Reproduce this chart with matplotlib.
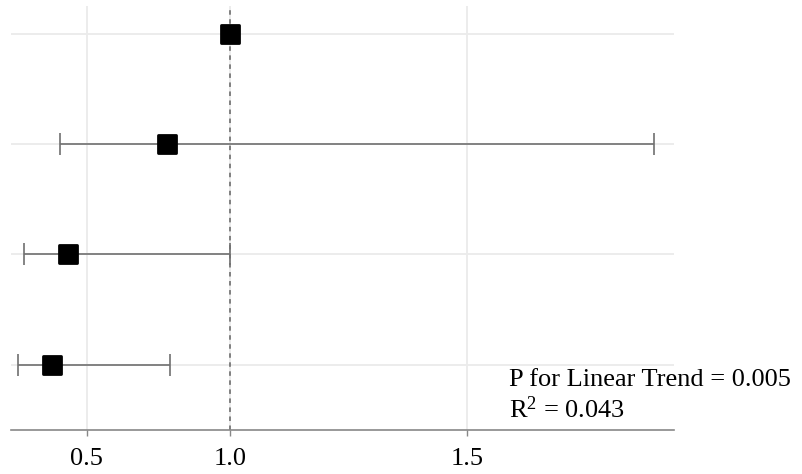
import numpy as np
import matplotlib
matplotlib.use("Agg")
import matplotlib.pyplot as plt
from matplotlib.markers import MarkerStyle

# odds ratios with 95% CI, top row is the reference group
rows = [4, 3, 2, 1]
odds_ratio = [1.0, 0.81, 0.41, 0.33]
ci_low = [np.nan, 0.371, 0.167, 0.128]
ci_high = [np.nan, 1.77, 1.00, 0.819]
x_ticks = [0.5, 1.0, 1.5]
x_tick_labels = ["0.5", "1.0", "1.5"]
p_trend = "P for Linear Trend = 0.005"
r2_text = "R$^{2}$ = 0.043"

plt.rcParams["font.family"] = ["Liberation Serif", "DejaVu Serif"]
plt.rcParams["mathtext.fontset"] = "custom"
plt.rcParams["mathtext.rm"] = "Liberation Serif"
plt.rcParams["mathtext.it"] = "Liberation Serif:italic"

fig = plt.figure(figsize=(8.03, 4.74), dpi=100)
ax = fig.add_axes([11 / 803, 44 / 474, 663 / 803, 424 / 474])
ax.set_xscale("function", functions=(np.exp, np.log))

or_arr = np.array(odds_ratio)
lo = np.array(ci_low)
hi = np.array(ci_high)
has_ci = ~np.isnan(lo)
xerr = np.vstack([or_arr[has_ci] - lo[has_ci], hi[has_ci] - or_arr[has_ci]])
ax.errorbar(or_arr[has_ci], np.array(rows)[has_ci], xerr=xerr, fmt="none",
            ecolor="#707070", elinewidth=1.2, capsize=8, capthick=1.2, zorder=3)

ax.axvline(1.0, color="#777777", linestyle=(0, (2.5, 2.5)), linewidth=1.3, zorder=2)

ax.plot(odds_ratio, rows, linestyle="none",
        marker=MarkerStyle("s", joinstyle="round"), markersize=13,
        markerfacecolor="black", markeredgecolor="black", markeredgewidth=2,
        zorder=4)

ax.set_xlim(0.0815, 1.7954)
ax.set_ylim(0.41, 4.25)
ax.set_xticks(x_ticks)
ax.set_xticklabels(x_tick_labels, fontsize=19)
ax.xaxis.set_minor_locator(matplotlib.ticker.NullLocator())
ax.set_yticks(rows)
ax.set_yticklabels([])
ax.tick_params(axis="y", length=0)
ax.tick_params(axis="x", length=4, width=1, color="#888888", pad=9)

ax.grid(True, color="#ebebeb", linewidth=1.3, zorder=0)
ax.set_axisbelow(True)
for side in ["left", "right", "top"]:
    ax.spines[side].set_visible(False)
ax.spines["bottom"].set_color("#888888")
ax.spines["bottom"].set_linewidth(1.2)

ax.text(509, 474 - 380, p_trend, transform=None, fontsize=19, va="center", ha="left")
ax.text(509, 474 - 410, r2_text, transform=None, fontsize=19, va="center", ha="left")

fig.savefig("out.png", dpi=100)
